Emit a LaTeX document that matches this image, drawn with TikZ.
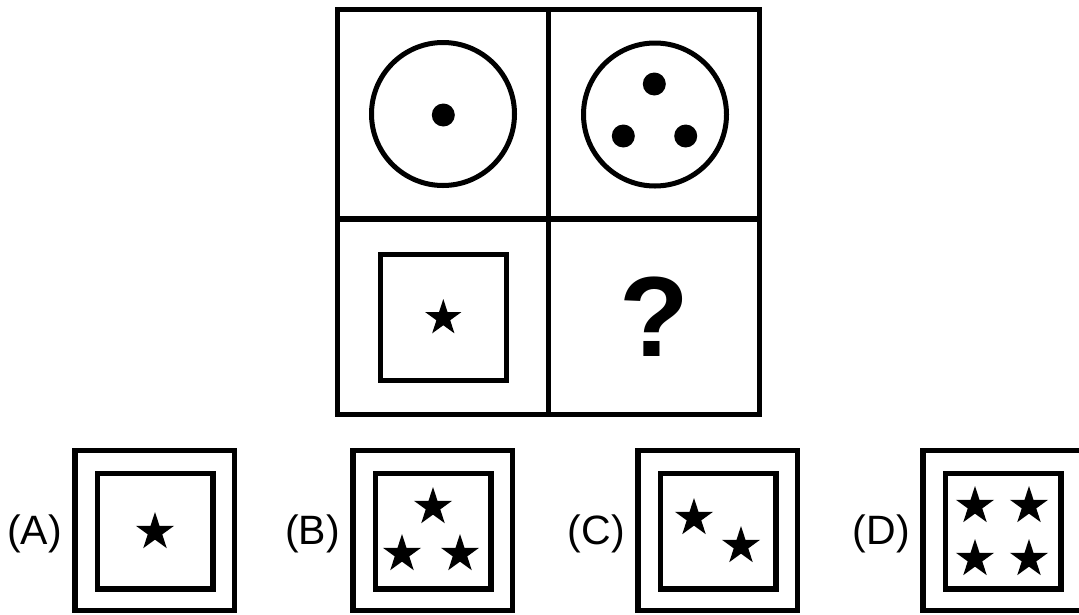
\documentclass[tikz,border=0pt]{standalone}
\usepackage{fontspec}
\setmainfont{Liberation Sans}
\usetikzlibrary{shapes.geometric}
\tikzset{
  frame/.style={line width=5.5pt},
  ring/.style={line width=5pt},
  dot/.style={circle, fill=black, inner sep=0pt, minimum size=23pt},
  starmark/.style={star, star points=5, star point ratio=2.618, fill=black, inner sep=0pt, minimum size=40pt},
  optlabel/.style={anchor=east, font=\fontsize{41}{48}\selectfont, inner sep=0pt},
}
\begin{document}
\begin{tikzpicture}[x=1pt,y=-1pt]
\useasboundingbox (0,0) rectangle (1079,614);
\fill[white] (0,0) rectangle (1079,614);
% main grid
\draw[frame] (337.5,9.5) rectangle (759.5,414.5);
\draw[frame] (548.5,9.5) -- (548.5,414.5);
\draw[frame] (337.5,219) -- (759.5,219);
% top-left cell
\draw[ring] (443,114) circle[radius=71.5];
\node[dot] (d1) at (443.3,115) {};
% top-right cell
\draw[ring] (655,114.5) circle[radius=71.5];
\node[dot] (d2) at (654.3,84) {};
\node[dot] (d3) at (623.3,136) {};
\node[dot] (d4) at (685.7,136) {};
% bottom-left cell
\draw[frame] (380.5,254.5) rectangle (506.3,380.5);
\node[starmark, minimum size=38pt] (s0) at (443.3,318) {};
% bottom-right cell
\node[font=\fontsize{114}{120}\selectfont\bfseries, inner sep=0pt] (q) at (654,317) {?};
% options
\foreach \L in {75,353,638,923}{
  \draw[frame] (\L,450.5) rectangle ++(159.5,160);
  \draw[frame] (\L+22.5,473.5) rectangle ++(115.5,115.5);
}
\node[optlabel] (la) at (62,534) {(A)};
\node[optlabel] (lb) at (340,534) {(B)};
\node[optlabel] (lc) at (625,534) {(C)};
\node[optlabel] (ld) at (910,534) {(D)};
% stars
\node[starmark] (sa) at (155,532) {};
\node[starmark] (sb1) at (433,507) {};
\node[starmark] (sb2) at (402,554) {};
\node[starmark] (sb3) at (460,554) {};
\node[starmark] (sc1) at (694,518) {};
\node[starmark] (sc2) at (741,546) {};
\node[starmark] (sd1) at (975,506) {};
\node[starmark] (sd2) at (1029,506) {};
\node[starmark] (sd3) at (975,559) {};
\node[starmark] (sd4) at (1029,559) {};
\end{tikzpicture}
\end{document}
